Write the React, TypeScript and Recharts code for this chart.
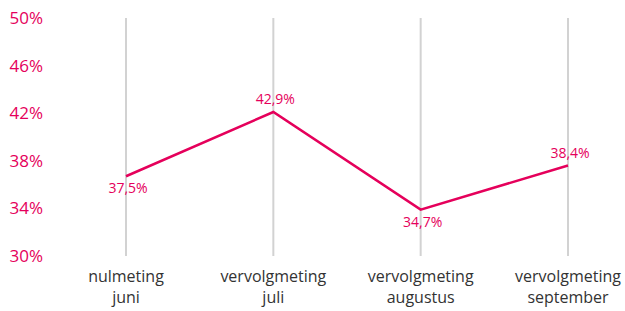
import React from 'react';
import { LineChart, Line, XAxis, YAxis, ReferenceLine, LabelList } from 'recharts';

const categories = ['nulmeting juni', 'vervolgmeting juli', 'vervolgmeting augustus', 'vervolgmeting september'];
const values = [37.5, 42.9, 34.7, 38.4];
const valueLabels = ['37,5%', '42,9%', '34,7%', '38,4%'];
const labelSide = ['below', 'above', 'below', 'above'];
const yTicks = [30, 34, 38, 42, 46, 50];

const PINK = '#e5005b';
const FONT = "'Open Sans', sans-serif";

const data = categories.map((name, i) => ({ name, value: values[i], label: valueLabels[i] }));

const CategoryTick = (props: any) => {
    const { x, y, payload } = props;
    const text: string = payload.value;
    const idx = text.indexOf(' ');
    return (
        <text x={x} y={y} textAnchor="middle" fill="#333" fontSize={16} fontFamily={FONT}>
            <tspan x={x} y={y + 24}>{text.slice(0, idx)}</tspan>
            <tspan x={x} y={y + 45}>{text.slice(idx + 1)}</tspan>
        </text>
    );
};

const PointLabel = (props: any) => {
    const { x, y, index } = props;
    const below = labelSide[index] === 'below';
    return (
        <text x={x + 2} y={below ? y + 17 : y - 8} textAnchor="middle" fill={PINK} fontSize={14} fontFamily={FONT}>
            {valueLabels[index]}
        </text>
    );
};

const App: React.FC = () => {
    return (
        <div style={{ position: 'absolute', left: 0, top: 0, background: '#fff' }}>
            <LineChart width={625} height={311} data={data} margin={{ top: 18, right: 0, bottom: 0, left: 0 }}>
                <XAxis
                    dataKey="name"
                    scale="point"
                    padding={{ left: 74, right: 57 }}
                    axisLine={false}
                    tickLine={false}
                    tickSize={0}
                    height={55}
                    interval={0}
                    tick={<CategoryTick />}
                />
                <YAxis
                    yAxisId="ticks"
                    orientation="left"
                    type="number"
                    domain={[30, 50]}
                    ticks={yTicks}
                    allowDataOverflow
                    width={52}
                    axisLine={false}
                    tickLine={false}
                    tickSize={0}
                    tickMargin={9}
                    tickFormatter={(v: number) => `${v}%`}
                    tick={{ fill: PINK, fontSize: 17, fontFamily: FONT }}
                />
                <YAxis
                    yAxisId="data"
                    orientation="right"
                    width={0}
                    type="number"
                    domain={[30.8, 50.8]}
                    hide
                    allowDataOverflow
                />
                {categories.map((c) => (
                    <ReferenceLine key={c} x={c} yAxisId="ticks" stroke="#d2d2d2" strokeWidth={2} />
                ))}
                <Line
                    yAxisId="data"
                    type="linear"
                    dataKey="value"
                    stroke={PINK}
                    strokeWidth={2.5}
                    dot={false}
                    activeDot={false}
                    isAnimationActive={false}
                >
                    <LabelList dataKey="label" content={<PointLabel />} />
                </Line>
            </LineChart>
        </div>
    );
};

export default App;
